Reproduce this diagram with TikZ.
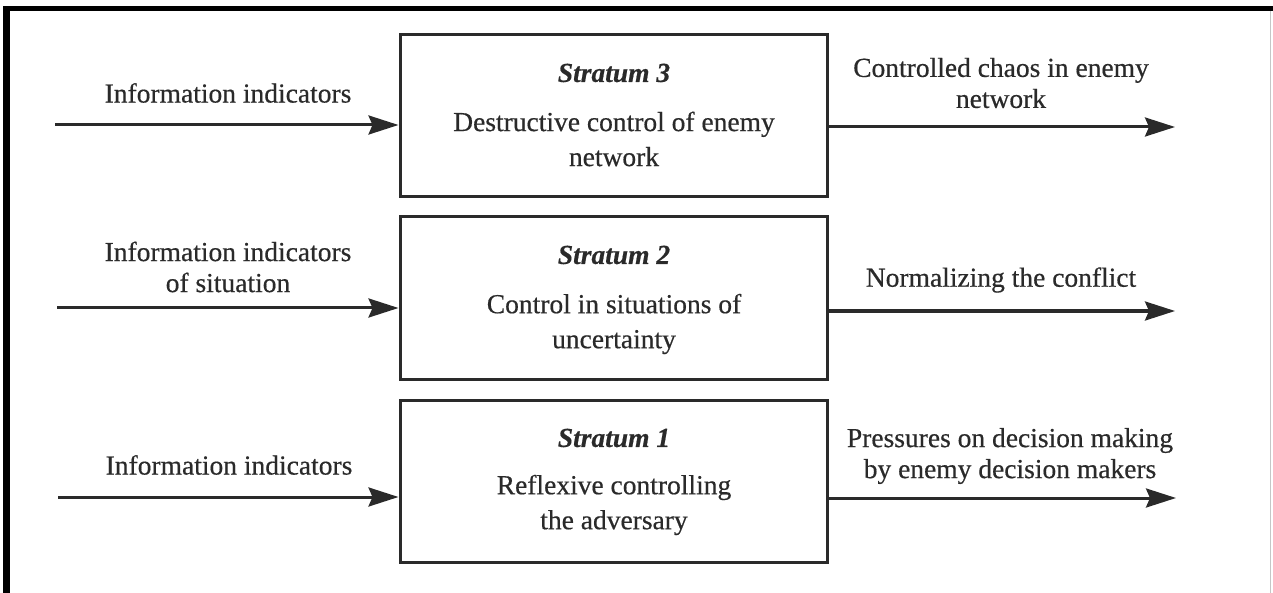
\documentclass[tikz,border=0pt]{standalone}
\usepackage{fontspec}
\setmainfont{Liberation Serif}[FakeBold=0.5]
\usetikzlibrary{arrows.meta}
\definecolor{ink}{HTML}{2A2A2A}
\tikzset{
  stratbox/.style={draw=ink, line width=3pt, minimum width=427pt, minimum height=162pt, inner sep=0pt},
  lbl/.style={text=ink, align=center, inner sep=0pt, font=\fontsize{27.5}{31}\selectfont},
  boxtxt/.style={text=ink, align=center, inner sep=0pt, font=\fontsize{27.5}{35}\selectfont},
  ttl/.style={text=ink, inner sep=0pt, font=\fontsize{27.5}{33}\selectfont\bfseries\itshape},
  flow/.style={draw=ink, line width=3pt, -{Stealth[length=30pt,width=19pt,inset=4pt]}},
}
\begin{document}
\begin{tikzpicture}[x=1pt,y=-1pt]
\useasboundingbox (0,0) rectangle (1273,593);
% frame
\fill[black] (3,6) rectangle (1273,11);
\fill[black] (3,6) rectangle (10,593);
\draw[gray!45, line width=1pt] (1270,11) -- (1270,593);
% boxes
\node[stratbox] (b3) at (613.5,116) {};
\node[stratbox] (b2) at (613.5,298) {};
\node[stratbox] (b1) at (613.5,481.5) {};
% box texts
\node[ttl] (t3) at (614,73) {Stratum 3};
\node[boxtxt] (d3) at (614,139) {Destructive control of enemy\\network};
\node[ttl] (t2) at (614,255) {Stratum 2};
\node[boxtxt] (d2) at (614,324) {Control in situations of\\uncertainty};
\node[ttl] (t1) at (614,438) {Stratum 1};
\node[boxtxt] (d1) at (614,505) {Reflexive controlling\\the adversary};
% left labels
\node[lbl] (l3) at (228,93) {Information indicators};
\node[lbl] (l2) at (228,267) {Information indicators\\of situation};
\node[lbl] (l1) at (229,465) {Information indicators};
% right labels
\node[lbl] (r3) at (1001,83) {Controlled chaos in enemy\\network};
\node[lbl] (r2) at (1001,280) {Normalizing the conflict};
\node[lbl] (r1) at (1010,456) {Pressures on decision making\\by enemy decision makers};
% arrow end coordinates
\coordinate (in3) at (55,125);
\coordinate (in2) at (57,308);
\coordinate (in1) at (58,497);
\coordinate (out3) at (1175,127);
\coordinate (out2) at (1175,311);
\coordinate (out1) at (1176,498);
% arrows
\draw[flow] (in3) -- (in3 -| b3.west);
\draw[flow] (in2) -- (in2 -| b2.west);
\draw[flow] (in1) -- (in1 -| b1.west);
\draw[flow] (out3 -| b3.east) -- (out3);
\draw[flow] (out2 -| b2.east) -- (out2);
\draw[flow] (out1 -| b1.east) -- (out1);
\end{tikzpicture}
\end{document}
